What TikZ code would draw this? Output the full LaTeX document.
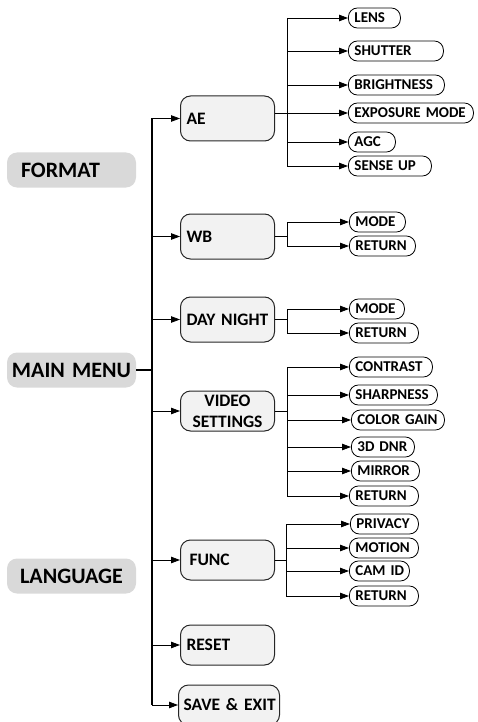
\documentclass[tikz,border=0pt]{standalone}
\usepackage{fontspec}
\setmainfont{Carlito}
\usetikzlibrary{arrows.meta}
\tikzset{>={Triangle[length=9pt,width=6.5pt]}}
\tikzset{
  sidebox/.style={fill=black!15, rounded corners=10pt, minimum height=35pt,
    inner xsep=3pt, text width=123pt, align=center,
    font=\fontsize{22}{24}\selectfont\bfseries},
  menubox/.style={draw=black!85, line width=1pt, fill=black!5, rounded corners=10pt,
    anchor=west, inner xsep=6pt, text width=82pt, align=left,
    font=\fontsize{17.5}{21}\selectfont\bfseries},
  leafbox/.style={draw, line width=0.8pt, fill=white, rounded corners=9pt,
    anchor=west, minimum height=20pt, inner ysep=0pt, inner xsep=6pt,
    text width=#1, align=left, font=\fontsize{15}{16}\selectfont\bfseries},
  wire/.style={line width=0.8pt}
}

\begin{document}
\begin{tikzpicture}[x=1pt,y=-1pt]
  \useasboundingbox (0,0) rectangle (477,722);

  \node[sidebox, align=left, inner xsep=14pt, text width=101pt] (format) at (71.5,170) {FORMAT};
  \node[sidebox] (mainmenu) at (71.5,370) {MAIN~MENU};
  \node[sidebox] (language) at (71.5,576) {LANGUAGE};

  \node[menubox, minimum height=45pt] (ae) at (180,118.5) {AE};
  \node[menubox, minimum height=45pt] (wb) at (180,236.5) {WB};
  \node[menubox, minimum height=45pt] (daynight) at (180,319.5) {DAY~NIGHT};
  \node[menubox, minimum height=40pt, align=center] (video) at (180,411) {VIDEO\\SETTINGS};
  \node[menubox, minimum height=40pt] (func) at (180,560) {\hspace*{3pt}FUNC};
  \node[menubox, minimum height=40pt] (reset) at (180,645) {RESET};
  \node[menubox, minimum height=40pt, inner xsep=5pt, text width=91pt] (saveexit) at (178,705) {SAVE~\&~EXIT};

  \node[leafbox=40pt] (lens) at (348,18) {LENS};
  \node[leafbox=83pt] (shutter) at (348,51) {SHUTTER};
  \node[leafbox=84pt] (bright) at (348,85) {BRIGHTNESS};
  \node[leafbox=113pt] (expo) at (348,113) {EXPOSURE~MODE};
  \node[leafbox=35pt] (agc) at (348,142) {AGC};
  \node[leafbox=71pt] (senseup) at (348,166) {SENSE~UP};

  \node[leafbox=44pt] (wbmode) at (349,222) {MODE};
  \node[leafbox=54pt] (wbret) at (349,246) {RETURN};

  \node[leafbox=43pt] (dnmode) at (349,309) {MODE};
  \node[leafbox=57pt] (dnret) at (349,333) {RETURN};

  \node[leafbox=71pt] (contrast) at (349,367) {CONTRAST};
  \node[leafbox=76pt] (sharp) at (349,395) {SHARPNESS};
  \node[leafbox=81pt] (colorgain) at (351,420) {COLOR~GAIN};
  \node[leafbox=51pt] (dnr) at (351,447) {3D~DNR};
  \node[leafbox=56pt] (mirror) at (351,471) {MIRROR};
  \node[leafbox=57pt] (vsret) at (349,496) {RETURN};

  \node[leafbox=56pt] (privacy) at (350,524) {PRIVACY};
  \node[leafbox=57pt] (motion) at (349,548) {MOTION};
  \node[leafbox=48pt] (camid) at (349,571) {CAM~ID};
  \node[leafbox=57pt] (fnret) at (349,596) {RETURN};

  \coordinate (trunk) at (152,370);
  \draw[wire, line width=1.5pt] (mainmenu.east) -- (trunk);
  \draw[wire, line width=1.1pt] (trunk |- ae) -- (trunk |- saveexit);
  \draw[wire,->] (trunk |- ae) -- (ae.west);
  \draw[wire,->] (trunk |- wb) -- (wb.west);
  \draw[wire,->] (trunk |- daynight) -- (daynight.west);
  \draw[wire,->] (trunk |- video) -- (video.west);
  \draw[wire,->] (trunk |- func) -- (func.west);
  \draw[wire,->] (trunk |- reset) -- (reset.west);
  \draw[wire,->] (trunk |- saveexit) -- (saveexit.west);

  \coordinate (jae) at (287,113);
  \draw[wire] (ae.east |- jae) -- (jae);
  \draw[wire] (jae |- lens) -- (jae |- senseup);
  \draw[wire,->] (jae |- lens) -- (lens.west);
  \draw[wire,->] (jae |- shutter) -- (shutter.west);
  \draw[wire,->] (jae |- bright) -- (bright.west);
  \draw[wire,->] (jae |- expo) -- (expo.west);
  \draw[wire,->] (jae |- agc) -- (agc.west);
  \draw[wire,->] (jae |- senseup) -- (senseup.west);

  \coordinate (jwb) at (287,236.5);
  \draw[wire] (wb.east) -- (jwb);
  \draw[wire] (jwb |- wbmode) -- (jwb |- wbret);
  \draw[wire,->] (jwb |- wbmode) -- (wbmode.west);
  \draw[wire,->] (jwb |- wbret) -- (wbret.west);

  \coordinate (jdn) at (287,319.5);
  \draw[wire] (daynight.east) -- (jdn);
  \draw[wire] (jdn |- dnmode) -- (jdn |- dnret);
  \draw[wire,->] (jdn |- dnmode) -- (dnmode.west);
  \draw[wire,->] (jdn |- dnret) -- (dnret.west);

  \coordinate (jvs) at (287,411);
  \draw[wire] (video.east) -- (jvs);
  \draw[wire] (jvs |- contrast) -- (jvs |- vsret);
  \draw[wire,->] (jvs |- contrast) -- (contrast.west);
  \draw[wire,->] (jvs |- sharp) -- (sharp.west);
  \draw[wire,->] (jvs |- colorgain) -- (colorgain.west);
  \draw[wire,->] (jvs |- dnr) -- (dnr.west);
  \draw[wire,->] (jvs |- mirror) -- (mirror.west);
  \draw[wire,->] (jvs |- vsret) -- (vsret.west);

  \coordinate (jfn) at (286,560);
  \draw[wire] (func.east) -- (jfn);
  \draw[wire] (jfn |- privacy) -- (jfn |- fnret);
  \draw[wire,->] (jfn |- privacy) -- (privacy.west);
  \draw[wire,->] (jfn |- motion) -- (motion.west);
  \draw[wire,->] (jfn |- camid) -- (camid.west);
  \draw[wire,->] (jfn |- fnret) -- (fnret.west);
\end{tikzpicture}
\end{document}
